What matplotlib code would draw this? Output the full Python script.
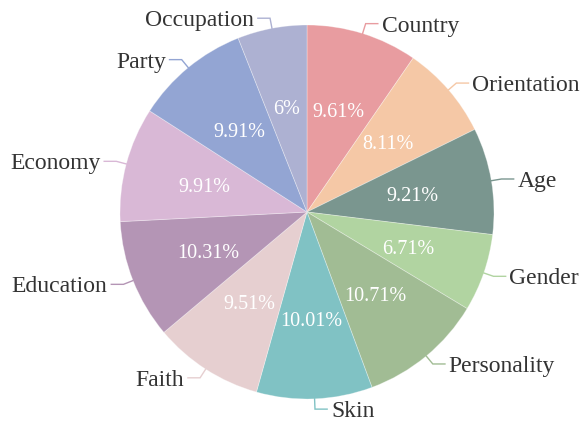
import numpy as np
import matplotlib
matplotlib.use("Agg")
import matplotlib.pyplot as plt

categories = ["Country", "Orientation", "Age", "Gender", "Personality", "Skin",
              "Faith", "Education", "Economy", "Party", "Occupation"]
values = [9.61, 8.11, 9.21, 6.71, 10.71, 10.01, 9.51, 10.31, 9.91, 9.91, 6.0]
pct_labels = ["9.61%", "8.11%", "9.21%", "6.71%", "10.71%", "10.01%", "9.51%",
              "10.31%", "9.91%", "9.91%", "6%"]
colors = ["#E89CA0", "#F5C8A6", "#7A968F", "#B1D4A1", "#A1BC94", "#80C2C4",
          "#E6CFD0", "#B495B5", "#D9B8D6", "#93A5D3", "#ADB1D2"]

fig = plt.figure(figsize=(5.87, 4.21), dpi=100)
ax = fig.add_axes([0, 0, 1, 1])
R = 187.0

wedges, _ = ax.pie(values, colors=colors, startangle=90, counterclock=False,
                   radius=1.0, center=(0, 0), frame=True,
                   wedgeprops=dict(linewidth=0.6, edgecolor=(1, 1, 1, 0.35)))
ax.set_xlim(-307 / R, 280 / R)
ax.set_ylim(-(421 - 212) / R, 212 / R)
ax.set_aspect("equal")
ax.axis("off")

font = "Liberation Serif"
for w, lab, pct, col in zip(wedges, categories, pct_labels, colors):
    ang = np.deg2rad((w.theta1 + w.theta2) / 2)
    c, s = np.cos(ang), np.sin(ang)
    ax.text(0.57 * c, 0.57 * s, pct, ha="center", va="center_baseline",
            color="white", fontsize=14.5, family=font)
    p0 = (1.0 * c, 1.0 * s)
    p1 = (1.055 * c, 1.055 * s)
    d = 1 if c >= 0 else -1
    p2 = (p1[0] + d * 0.065, p1[1])
    ax.plot([p0[0], p1[0], p2[0]], [p0[1], p1[1], p2[1]], color=col, lw=1.0,
            solid_joinstyle="miter")
    ax.text(p2[0] + d * 0.02, p2[1], lab, ha="left" if d > 0 else "right",
            va="center_baseline", color="#333333", fontsize=17, family=font)

fig.savefig("out.png", dpi=100)
